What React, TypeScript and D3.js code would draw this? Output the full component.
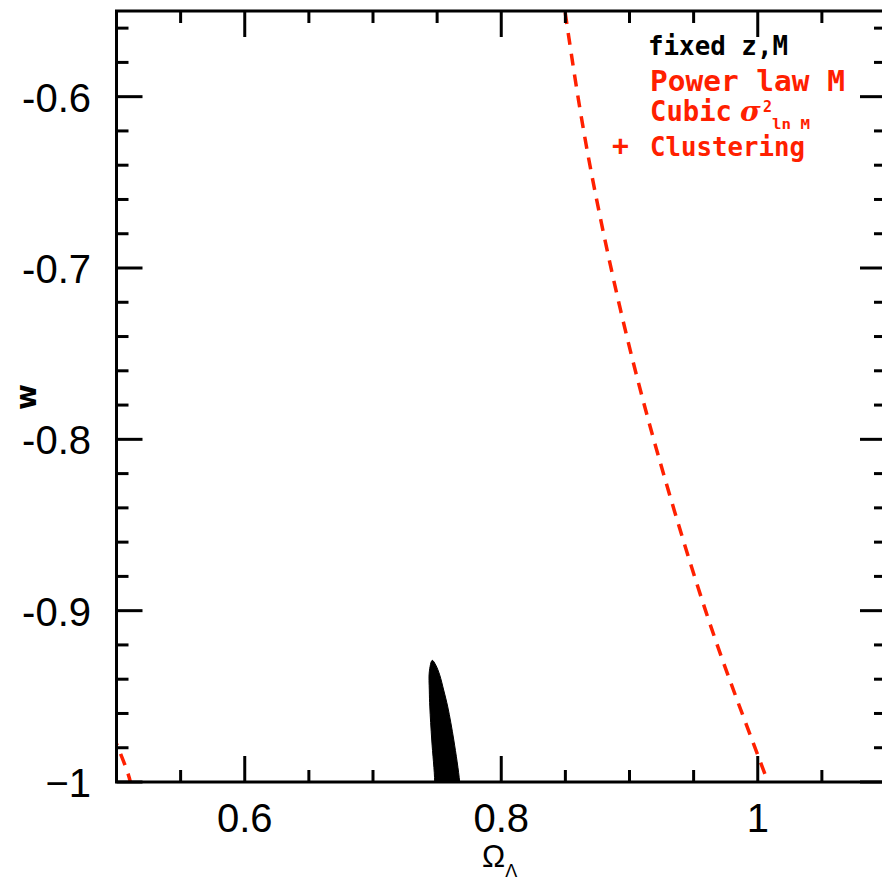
import React from "react";
import * as d3 from "d3";

const W = 882;
const H = 880;

// axis domains
const xDomain = [0.5, 1.1];
const yDomain = [-1, -0.55];

// ticks
const xMinorTicks = [0.55, 0.6, 0.65, 0.7, 0.75, 0.8, 0.85, 0.9, 0.95, 1.0, 1.05];
const xMajorTicks = [0.6, 0.8, 1.0];
const xTickLabels = ["0.6", "0.8", "1"];
const yMinorTicks = [-1.0, -0.98, -0.96, -0.94, -0.92, -0.9, -0.88, -0.86, -0.84, -0.82, -0.8, -0.78, -0.76, -0.74, -0.72, -0.7, -0.68, -0.66, -0.64, -0.62, -0.6, -0.58, -0.56];
const yMajorTicks = [-1.0, -0.9, -0.8, -0.7, -0.6];
const yTickLabels = ["\u22121", "-0.9", "-0.8", "-0.7", "-0.6"];

// filled black contour (fixed z,M)
const blackOmega = [0.7476, 0.7481, 0.7458, 0.7443, 0.7439, 0.7439, 0.7462, 0.7489, 0.752, 0.7551, 0.7583, 0.763, 0.7676, 0.7683];
const blackW = [-1.01, -1.0, -0.9755, -0.9562, -0.9463, -0.9357, -0.929, -0.9317, -0.9375, -0.9463, -0.9562, -0.9755, -1.0, -1.01];

// red dashed contour (power law M + cubic sigma + clustering)
const redOmega = [0.8478, 0.8497, 0.8615, 0.876, 0.893, 0.9126, 0.9348, 0.9595, 0.9839, 1.008, 1.0135];
const redW = [-0.5389, -0.55, -0.6077, -0.6661, -0.7245, -0.7829, -0.8412, -0.9004, -0.9521, -1.0, -1.0105];
const redLeftOmega = [0.4908, 0.4994, 0.5088, 0.5119];
const redLeftW = [-0.9609, -0.9766, -0.9947, -1.005];

const RED = "#ff2000";

export default function App() {
  const x = d3.scaleLinear().domain(xDomain).range([116.5, 886]);
  const y = d3.scaleLinear().domain(yDomain).range([782, 11]);
  const left = x(xDomain[0]);
  const right = x(xDomain[1]);
  const top = y(yDomain[1]);
  const bottom = y(yDomain[0]);

  const line = d3
    .line<[number, number]>()
    .x((d) => x(d[0]))
    .y((d) => y(d[1]))
    .curve(d3.curveNatural);

  const blackPts = blackOmega.map((o, i) => [o, blackW[i]] as [number, number]);
  const redPts = redOmega.map((o, i) => [o, redW[i]] as [number, number]);
  const redLeftPts = redLeftOmega.map((o, i) => [o, redLeftW[i]] as [number, number]);

  const blackPath = d3
    .line<[number, number]>()
    .x((d) => x(d[0]))
    .y((d) => y(d[1]))
    .curve(d3.curveCatmullRomClosed.alpha(0.5))(blackPts);

  const tickW = 3;
  const minorLen = 12;
  const majorLen = 26;
  const legendFont = "DejaVu Sans Mono, monospace";

  return (
    <svg
      width={W}
      height={H}
      style={{ position: "fixed", left: 0, top: 0, background: "#fff" }}
      xmlns="http://www.w3.org/2000/svg"
    >
      <rect x={0} y={0} width={W} height={H} fill="#fff" />
      <defs>
        <clipPath id="plotClip">
          <rect x={left} y={top} width={right - left} height={bottom - top} />
        </clipPath>
      </defs>

      <g clipPath="url(#plotClip)">
        <path d={blackPath || ""} fill="#000" stroke="#000" strokeWidth={1} />
        <path
          d={line(redPts) || ""}
          fill="none"
          stroke={RED}
          strokeWidth={3.5}
          strokeDasharray="12 9"
        />
        <path
          d={line(redLeftPts) || ""}
          fill="none"
          stroke={RED}
          strokeWidth={3.5}
          strokeDasharray="12 9"
        />
      </g>

      {/* frame */}
      <rect
        x={left}
        y={top}
        width={right - left}
        height={bottom - top}
        fill="none"
        stroke="#000"
        strokeWidth={3}
      />

      {/* x ticks */}
      {xMinorTicks.map((t) => {
        const len = xMajorTicks.some((m) => Math.abs(m - t) < 1e-9) ? majorLen : minorLen;
        return (
          <g key={"xt" + t}>
            <line x1={x(t)} x2={x(t)} y1={bottom} y2={bottom - len} stroke="#000" strokeWidth={tickW} />
            <line x1={x(t)} x2={x(t)} y1={top} y2={top + len} stroke="#000" strokeWidth={tickW} />
          </g>
        );
      })}
      {/* y ticks */}
      {yMinorTicks.map((t) => {
        const len = yMajorTicks.some((m) => Math.abs(m - t) < 1e-9) ? majorLen : minorLen;
        return (
          <g key={"yt" + t}>
            <line x1={left} x2={left + len} y1={y(t)} y2={y(t)} stroke="#000" strokeWidth={tickW} />
            <line x1={right} x2={right - len} y1={y(t)} y2={y(t)} stroke="#000" strokeWidth={tickW} />
          </g>
        );
      })}

      {/* x tick labels */}
      {xMajorTicks.map((t, i) => (
        <text
          key={"xl" + t}
          x={x(t)}
          y={832}
          textAnchor="middle"
          fontFamily="Liberation Sans, Arial, sans-serif"
          fontSize={40}
          fill="#000"
        >
          {xTickLabels[i]}
        </text>
      ))}
      {/* y tick labels */}
      {yMajorTicks.map((t, i) => (
        <text
          key={"yl" + t}
          x={91}
          y={y(t) + 15}
          textAnchor="end"
          fontFamily="Liberation Sans, Arial, sans-serif"
          fontSize={40}
          fill="#000"
        >
          {yTickLabels[i]}
        </text>
      ))}

      {/* axis titles */}
      <text x={482} y={867} fontFamily="Liberation Sans, Arial, sans-serif" fontSize={31} fill="#000">
        Ω
        <tspan dy={10} fontSize={18}>Λ</tspan>
      </text>
      <text
        transform="translate(36,397) rotate(-90)"
        textAnchor="middle"
        fontFamily="DejaVu Sans, sans-serif"
        fontWeight="bold"
        fontSize={28}
        fill="#000"
      >
        w
      </text>

      {/* legend */}
      <g fontFamily={legendFont} fontWeight="bold">
        <text x={648} y={55} fontSize={27} fill="#000" textLength={140} lengthAdjust="spacingAndGlyphs">
          fixed z,M
        </text>
        <text x={650} y={91} fontSize={28} fill={RED} textLength={195} lengthAdjust="spacingAndGlyphs">
          Power law M
        </text>
        <text x={650} y={121} fontSize={28} fill={RED} textLength={82} lengthAdjust="spacingAndGlyphs">
          Cubic
        </text>
        <text x={740} y={121} fontSize={28} fill={RED} fontStyle="italic" fontFamily="DejaVu Serif, serif">
          σ
        </text>
        <text x={763} y={112} fontSize={15} fill={RED}>
          2
        </text>
        <text x={772} y={129} fontSize={14} fill={RED} textLength={38} lengthAdjust="spacingAndGlyphs">
          ln M
        </text>
        <text x={612} y={155} fontSize={28} fill={RED}>
          +
        </text>
        <text x={650} y={156} fontSize={27} fill={RED} textLength={155} lengthAdjust="spacingAndGlyphs">
          Clustering
        </text>
      </g>
    </svg>
  );
}
